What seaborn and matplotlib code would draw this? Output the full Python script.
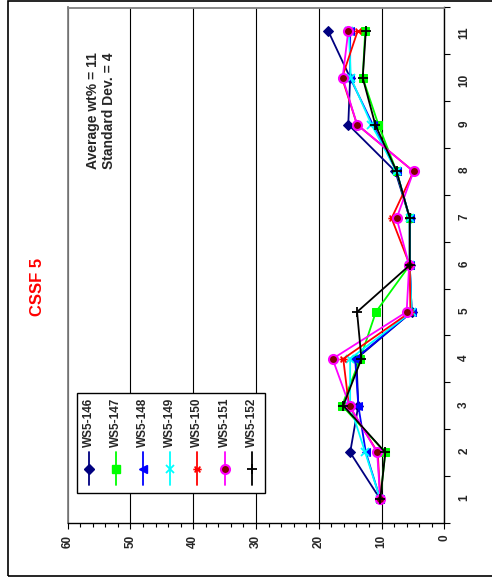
import numpy as np
import pandas as pd
import matplotlib
matplotlib.use("Agg")
import matplotlib.pyplot as plt
import seaborn as sns
from matplotlib.lines import Line2D
from matplotlib.patches import Rectangle
from matplotlib.path import Path
from matplotlib.ticker import FixedLocator, FixedFormatter, MultipleLocator, NullFormatter

# wt% per sample position (1..11) for each WS5 series
samples = list(range(1, 12))
ws5_146 = [10.2, 15.0, 13.7, 14.0, 5.2, 5.5, 5.5, 7.8, 15.3, 15.0, 18.5]
ws5_147 = [10.2, 9.4, 16.3, 13.4, 10.9, 5.5, 5.5, 7.6, 10.5, 13.0, 12.6]
ws5_148 = [10.2, 12.5, 13.7, 14.2, 5.2, 5.5, 5.5, 7.6, 11.4, 15.0, 15.0]
ws5_149 = [10.2, 12.6, 15.0, 15.0, 5.2, 5.5, 5.5, 7.6, 11.6, 14.9, 15.2]
ws5_150 = [10.2, 10.6, 15.2, 16.1, 5.4, 5.5, 8.4, 4.9, 13.9, 16.3, 13.8]
ws5_151 = [10.2, 10.7, 15.1, 17.8, 6.0, 5.6, 7.6, 4.9, 13.9, 16.2, 15.3]
ws5_152 = [10.2, 9.4, 16.1, 13.2, 13.9, 5.5, 5.5, 7.6, 11.0, 13.0, 12.5]

series_names = ["WS5-146", "WS5-147", "WS5-148", "WS5-149", "WS5-150", "WS5-151", "WS5-152"]
series_values = [ws5_146, ws5_147, ws5_148, ws5_149, ws5_150, ws5_151, ws5_152]
series_colors = ["#000080", "#00ff00", "#0000ff", "#00ffff", "#ff0000", "#ff00ff", "#000000"]

value_ticks = [0, 10, 20, 30, 40, 50, 60]
title = "CSSF 5"
note = "Average wt% = 11\nStandard Dev. = 4"

df = pd.DataFrame({
    "sample": samples * len(series_names),
    "wt": np.concatenate(series_values),
    "series": np.repeat(series_names, len(samples)),
})

# Excel "star" marker (x plus a bar), turned on its side with the chart
star = Path([(-1, 0), (1, 0), (-0.7, -0.7), (0.7, 0.7), (-0.7, 0.7), (0.7, -0.7)],
            [Path.MOVETO, Path.LINETO] * 3)

marker_styles = [
    dict(marker="D", markerfacecolor="#000080", markeredgecolor="#000080", markersize=5.5),
    dict(marker="s", markerfacecolor="#00ff00", markeredgecolor="#00ff00", markersize=6),
    dict(marker="<", markerfacecolor="#0000ff", markeredgecolor="#0000ff", markersize=6),
    dict(marker="x", markerfacecolor="none", markeredgecolor="#00ffff", markersize=6, markeredgewidth=1.3),
    dict(marker=star, markerfacecolor="none", markeredgecolor="#ff0000", markersize=6, markeredgewidth=1.2),
    dict(marker="o", markerfacecolor="#800000", markeredgecolor="#ff00ff", markersize=6.5, markeredgewidth=1.5),
    dict(marker="+", markerfacecolor="none", markeredgecolor="#000000", markersize=7, markeredgewidth=1.3),
]

sns.set_style("white")
plt.rcParams["font.family"] = ["Liberation Sans", "DejaVu Sans"]
plt.rcParams["font.weight"] = "bold"

W, H = 492, 582
fig = plt.figure(figsize=(W / 100, H / 100), dpi=100)


def fx(px):
    return px / W


def fy(py):
    return 1 - py / H


# chart is laid out turned 90 degrees: values run right-to-left, samples bottom-to-top
ax = fig.add_axes([fx(67.7), fy(522.7), (444.3 - 67.7) / W, (522.7 - 7.5) / H])

for name, color, st in zip(series_names, series_colors, marker_styles):
    sub = df[df["series"] == name]
    sns.lineplot(data=sub, x="wt", y="sample", orient="y", sort=False, errorbar=None,
                 color=color, linewidth=1.3, ax=ax, **st)

ax.set_xlabel("")
ax.set_ylabel("")
ax.set_xlim(60, 0)
ax.set_ylim(0.5, 11.5)
ax.set_axisbelow(True)

ax.xaxis.set_major_locator(FixedLocator(value_ticks))
ax.xaxis.set_minor_locator(MultipleLocator(2))
ax.grid(axis="x", which="major", color="black", linewidth=0.8)
ax.grid(axis="y", visible=False)

ax.yaxis.tick_right()
ax.yaxis.set_major_locator(FixedLocator(np.arange(0.5, 11.6, 1)))
ax.yaxis.set_major_formatter(NullFormatter())
ax.yaxis.set_minor_locator(FixedLocator(samples))
ax.yaxis.set_minor_formatter(FixedFormatter([str(s) for s in samples]))

ax.tick_params(axis="y", which="major", direction="out", length=4, width=0.8,
               right=True, left=False, color="black")
ax.tick_params(axis="y", which="minor", length=0, pad=10, labelsize=8.5,
               labelrotation=90, right=True, left=False)
ax.tick_params(axis="x", which="major", direction="out", length=4, width=0.8,
               pad=4.5, labelsize=8.5, labelrotation=90, bottom=True, color="black")
ax.tick_params(axis="x", which="minor", direction="out", length=3, width=0.8,
               bottom=True, color="black")

for side in ["left", "top"]:
    ax.spines[side].set_color("#808080")
    ax.spines[side].set_linewidth(1.3)
for side in ["right", "bottom"]:
    ax.spines[side].set_color("black")
    ax.spines[side].set_linewidth(1.0)

# title and stats note, rotated with the chart
fig.text(fx(37.5), fy(287), title, rotation=90, ha="center", va="center",
         color="#ff0000", fontsize=12, fontweight="bold")
fig.text(fx(101), fy(52), note, rotation=90, ha="center", va="top",
         fontsize=10, fontweight="bold", multialignment="center")

# legend drawn by hand so the entries can stand sideways
fig.add_artist(Rectangle((fx(76.5), fy(492.5)), fx(265) - fx(76.5), fy(393) - fy(492.5),
                         transform=fig.transFigure, facecolor="white",
                         edgecolor="black", linewidth=1.0, zorder=5))
for i, (name, color, st) in enumerate(zip(series_names, series_colors, marker_styles)):
    xc = fx(89 + 27.1 * i)
    fig.add_artist(Line2D([xc, xc], [fy(452), fy(485)], transform=fig.transFigure,
                          color=color, linewidth=1.3, zorder=6))
    fig.add_artist(Line2D([xc], [fy(468.5)], transform=fig.transFigure,
                          linestyle="none", zorder=7, **st))
    fig.text(xc, fy(447), name, rotation=90, ha="center", va="bottom",
             fontsize=8.5, fontweight="bold", zorder=7)

# outer chart frame
fig.add_artist(Rectangle((fx(8), fy(576)), 1.0, fy(0.8) - fy(576),
                         transform=fig.transFigure, fill=False,
                         edgecolor="black", linewidth=1.2))

fig.savefig("out.png", dpi=100, facecolor="white")
